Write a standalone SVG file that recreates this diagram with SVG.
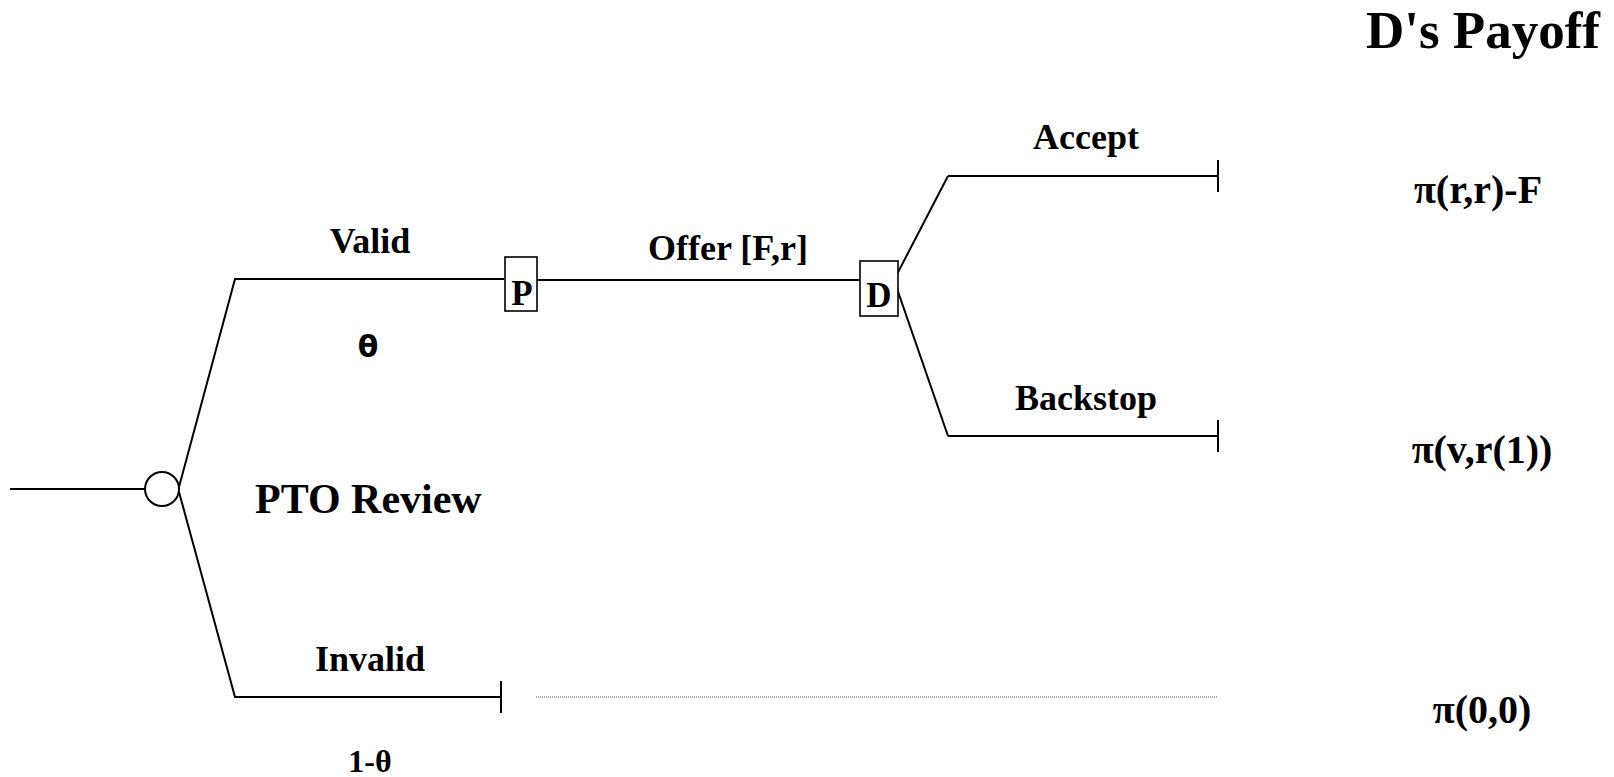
<svg xmlns="http://www.w3.org/2000/svg" width="1614" height="777" viewBox="0 0 1614 777">
<style>
.ln{stroke:#000;stroke-width:2;fill:none}
.bx{stroke:#000;stroke-width:1.6;fill:#fff}
.t{font-family:"Liberation Serif","Times New Roman",serif;font-weight:bold;fill:#000}
.lbl{font-size:36px;text-anchor:middle}
.pay{font-size:40px;text-anchor:middle}
</style>
<rect width="1614" height="777" fill="#fff"/>
<g id="connectors">
<line class="ln" x1="10" y1="489" x2="145" y2="489"/>
<polyline class="ln" points="179,487 235,279 504,279"/>
<polyline class="ln" points="179,492 235,697 501,697"/>
<line class="ln" x1="501" y1="681" x2="501" y2="713"/>
<line x1="536" y1="697" x2="1218" y2="697" stroke="#555" stroke-width="1" stroke-dasharray="1,1"/>
<line class="ln" x1="537" y1="280" x2="860" y2="280"/>
<polyline class="ln" points="948,176 894,280 948,436"/>
<line class="ln" x1="948" y1="176" x2="1218" y2="176"/>
<line class="ln" x1="1218" y1="160" x2="1218" y2="192"/>
<line class="ln" x1="948" y1="436" x2="1218" y2="436"/>
<line class="ln" x1="1218" y1="420" x2="1218" y2="452"/>
</g>
<g id="chance">
<circle class="ln" cx="162" cy="489" r="17"/>
<text class="t" x="255" y="513" font-size="42">PTO Review</text>
</g>
<g id="nodeP">
<rect class="bx" x="505" y="257" width="32" height="54"/>
<text class="t" x="522" y="305" font-size="35" text-anchor="middle">P</text>
</g>
<g id="nodeD">
<rect class="bx" x="860" y="261" width="38" height="55"/>
<text class="t" x="879" y="307" font-size="35" text-anchor="middle">D</text>
</g>
<g id="labels">
<text class="t lbl" x="370" y="253">Valid</text>
<text x="368" y="357" font-family="'DejaVu Sans','Liberation Sans',sans-serif" font-weight="bold" font-size="30" text-anchor="middle">θ</text>
<text class="t lbl" x="370" y="671">Invalid</text>
<text class="t" x="370" y="772" font-size="32" text-anchor="middle">1-θ</text>
<text class="t lbl" x="728" y="260">Offer [F,r]</text>
<text class="t lbl" x="1086" y="149">Accept</text>
<text class="t lbl" x="1086" y="410">Backstop</text>
</g>
<g id="payoffs">
<text class="t" x="1600" y="48" font-size="53" text-anchor="end">D's Payoff</text>
<text class="t pay" x="1478" y="203">π(r,r)-F</text>
<text class="t pay" x="1482" y="463">π(v,r(1))</text>
<text class="t pay" x="1482" y="723">π(0,0)</text>
</g>
</svg>
